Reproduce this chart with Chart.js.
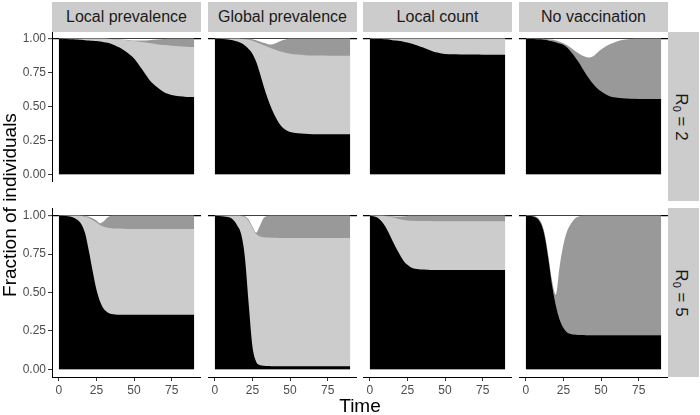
<!DOCTYPE html>
<html>
<head>
<meta charset="utf-8">
<script src="https://cdn.jsdelivr.net/npm/chart.js@4.4.0/dist/chart.umd.min.js"></script>
<style>
  body { margin: 0; background: #fff; }
  #fig { position: relative; width: 700px; height: 415px; overflow: hidden; font-family: "Liberation Sans", Arial, Helvetica, sans-serif; }
  #fig canvas { position: absolute; }
  .strip { position: absolute; background: #cccccc; color: #1a1a1a; text-align: center; }
  .rot { position: absolute; text-align: center; white-space: nowrap; }
</style>
</head>
<body>
<div id="fig"></div>
<script>
const time = [0, 5, 10, 12.5, 15, 17.5, 20, 22.5, 25, 27.5, 30, 32.5, 35, 37.5, 40, 42.5, 45, 47.5, 50, 55, 60, 65, 70, 75, 80, 85, 90];
const xTicks = [0, 25, 50, 75];
const yTicks = [0, 0.25, 0.5, 0.75, 1];
const strategies = ['Local prevalence', 'Global prevalence', 'Local count', 'No vaccination'];
const r0Values = ['2', '5'];

// layers from bottom: S (black), V (light grey), R (dark grey), I (white)
// R0 = 2
const lp2S = [1.0, 0.999, 0.996, 0.994, 0.992, 0.99, 0.988, 0.986, 0.983, 0.979, 0.975, 0.97, 0.962, 0.951, 0.937, 0.92, 0.902, 0.88, 0.855, 0.78, 0.70, 0.645, 0.605, 0.585, 0.575, 0.571, 0.57];
const lp2V = [0, 0.001, 0.004, 0.006, 0.008, 0.01, 0.012, 0.014, 0.017, 0.021, 0.025, 0.029, 0.036, 0.045, 0.057, 0.072, 0.088, 0.107, 0.128, 0.196, 0.268, 0.315, 0.349, 0.364, 0.37, 0.371, 0.37];
const lp2R = [0, 0, 0, 0, 0, 0, 0, 0, 0, 0, 0, 0.001, 0.001, 0.002, 0.002, 0.002, 0.002, 0.003, 0.005, 0.011, 0.022, 0.035, 0.044, 0.051, 0.055, 0.058, 0.06];
const lp2I = [0, 0, 0, 0, 0, 0, 0, 0, 0, 0, 0, 0, 0.001, 0.002, 0.004, 0.006, 0.008, 0.01, 0.012, 0.013, 0.01, 0.005, 0.002, 0, 0, 0, 0];

const gp2S = [1.0, 0.998, 0.993, 0.988, 0.98, 0.968, 0.95, 0.925, 0.89, 0.83, 0.745, 0.65, 0.565, 0.49, 0.43, 0.38, 0.345, 0.325, 0.312, 0.302, 0.298, 0.296, 0.295, 0.295, 0.295, 0.295, 0.295];
const gp2V = [0, 0.002, 0.007, 0.012, 0.02, 0.031, 0.047, 0.068, 0.095, 0.145, 0.218, 0.302, 0.376, 0.44, 0.49, 0.53, 0.557, 0.57, 0.578, 0.581, 0.581, 0.581, 0.581, 0.58, 0.58, 0.58, 0.58];
const gp2R = [0, 0, 0, 0, 0, 0.001, 0.003, 0.007, 0.012, 0.015, 0.017, 0.018, 0.021, 0.027, 0.045, 0.068, 0.088, 0.102, 0.11, 0.117, 0.121, 0.123, 0.124, 0.125, 0.125, 0.125, 0.125];
const gp2I = [0, 0, 0, 0, 0, 0, 0, 0, 0.003, 0.01, 0.02, 0.03, 0.038, 0.043, 0.035, 0.022, 0.01, 0.003, 0, 0, 0, 0, 0, 0, 0, 0, 0];

const lc2S = [1.0, 0.998, 0.996, 0.994, 0.99, 0.987, 0.983, 0.978, 0.972, 0.965, 0.956, 0.947, 0.937, 0.926, 0.915, 0.905, 0.898, 0.892, 0.888, 0.885, 0.884, 0.883, 0.883, 0.882, 0.882, 0.882, 0.882];
const lc2V = [0, 0.002, 0.004, 0.006, 0.01, 0.013, 0.017, 0.022, 0.028, 0.035, 0.044, 0.053, 0.063, 0.074, 0.085, 0.095, 0.102, 0.108, 0.112, 0.115, 0.116, 0.117, 0.117, 0.118, 0.118, 0.118, 0.118];
const lc2R = [0, 0, 0, 0, 0, 0, 0, 0, 0, 0, 0, 0, 0, 0, 0, 0, 0, 0, 0, 0, 0, 0, 0, 0, 0, 0, 0];
const lc2I = [0, 0, 0, 0, 0, 0, 0, 0, 0, 0, 0, 0, 0, 0, 0, 0, 0, 0, 0, 0, 0, 0, 0, 0, 0, 0, 0];

const nv2S = [1.0, 0.999, 0.996, 0.993, 0.988, 0.982, 0.975, 0.965, 0.955, 0.935, 0.905, 0.87, 0.83, 0.785, 0.74, 0.70, 0.665, 0.635, 0.612, 0.58, 0.566, 0.56, 0.557, 0.556, 0.555, 0.555, 0.555];
const nv2V = [0, 0, 0, 0, 0, 0, 0, 0, 0, 0, 0, 0, 0, 0, 0, 0, 0, 0, 0, 0, 0, 0, 0, 0, 0, 0, 0];
const nv2R = [0, 0.001, 0.004, 0.006, 0.009, 0.012, 0.012, 0.013, 0.012, 0.017, 0.028, 0.042, 0.063, 0.091, 0.126, 0.162, 0.207, 0.262, 0.308, 0.375, 0.412, 0.433, 0.441, 0.444, 0.445, 0.445, 0.445];
const nv2I = [0, 0, 0, 0.001, 0.003, 0.006, 0.013, 0.022, 0.033, 0.048, 0.067, 0.088, 0.107, 0.124, 0.134, 0.138, 0.128, 0.103, 0.08, 0.045, 0.022, 0.007, 0.002, 0, 0, 0, 0];

// R0 = 5
const lp5S = [1.0, 0.998, 0.987, 0.972, 0.945, 0.885, 0.77, 0.64, 0.52, 0.44, 0.392, 0.37, 0.36, 0.357, 0.355, 0.355, 0.355, 0.355, 0.355, 0.355, 0.355, 0.355, 0.355, 0.355, 0.355, 0.355, 0.355];
const lp5V = [0, 0.002, 0.013, 0.028, 0.053, 0.108, 0.215, 0.332, 0.435, 0.498, 0.536, 0.552, 0.559, 0.56, 0.561, 0.56, 0.559, 0.559, 0.559, 0.559, 0.559, 0.559, 0.558, 0.558, 0.558, 0.558, 0.558];
const lp5R = [0, 0, 0, 0, 0.002, 0.005, 0.008, 0.011, 0.013, 0.012, 0.037, 0.068, 0.08, 0.083, 0.084, 0.085, 0.086, 0.086, 0.086, 0.086, 0.086, 0.086, 0.087, 0.087, 0.087, 0.087, 0.087];
const lp5I = [0, 0, 0, 0, 0, 0.002, 0.007, 0.017, 0.032, 0.05, 0.035, 0.01, 0.001, 0, 0, 0, 0, 0, 0, 0, 0, 0, 0, 0, 0, 0, 0];

const gp5S = [1.0, 0.997, 0.988, 0.97, 0.935, 0.88, 0.73, 0.43, 0.15, 0.05, 0.028, 0.023, 0.021, 0.02, 0.02, 0.02, 0.02, 0.02, 0.02, 0.02, 0.02, 0.02, 0.02, 0.02, 0.02, 0.02, 0.02];
const gp5V = [0, 0.003, 0.012, 0.03, 0.065, 0.118, 0.26, 0.535, 0.77, 0.83, 0.837, 0.837, 0.837, 0.837, 0.836, 0.835, 0.835, 0.835, 0.835, 0.835, 0.835, 0.835, 0.835, 0.835, 0.835, 0.835, 0.835];
const gp5R = [0, 0, 0, 0, 0, 0.002, 0.007, 0.01, 0.01, 0.01, 0.07, 0.125, 0.14, 0.143, 0.144, 0.145, 0.145, 0.145, 0.145, 0.145, 0.145, 0.145, 0.145, 0.145, 0.145, 0.145, 0.145];
const gp5I = [0, 0, 0, 0, 0, 0, 0.003, 0.025, 0.07, 0.11, 0.065, 0.015, 0.002, 0, 0, 0, 0, 0, 0, 0, 0, 0, 0, 0, 0, 0, 0];

const lc5S = [1.0, 0.988, 0.935, 0.89, 0.838, 0.79, 0.745, 0.705, 0.68, 0.663, 0.655, 0.651, 0.649, 0.648, 0.647, 0.647, 0.647, 0.647, 0.647, 0.647, 0.647, 0.647, 0.647, 0.647, 0.647, 0.647, 0.647];
const lc5V = [0, 0.012, 0.063, 0.105, 0.152, 0.193, 0.231, 0.267, 0.289, 0.304, 0.311, 0.314, 0.316, 0.317, 0.318, 0.317, 0.317, 0.317, 0.317, 0.317, 0.317, 0.317, 0.317, 0.316, 0.316, 0.316, 0.316];
const lc5R = [0, 0, 0.002, 0.003, 0.006, 0.011, 0.018, 0.024, 0.029, 0.032, 0.034, 0.035, 0.035, 0.035, 0.035, 0.036, 0.036, 0.036, 0.036, 0.036, 0.036, 0.036, 0.036, 0.037, 0.037, 0.037, 0.037];
const lc5I = [0, 0, 0, 0.002, 0.004, 0.006, 0.006, 0.004, 0.002, 0.001, 0, 0, 0, 0, 0, 0, 0, 0, 0, 0, 0, 0, 0, 0, 0, 0, 0];

const nv5S = [1.0, 0.995, 0.95, 0.87, 0.72, 0.545, 0.415, 0.325, 0.27, 0.24, 0.23, 0.226, 0.224, 0.223, 0.222, 0.222, 0.222, 0.222, 0.222, 0.222, 0.221, 0.221, 0.221, 0.221, 0.221, 0.221, 0.221];
const nv5V = [0, 0, 0, 0, 0, 0, 0, 0, 0, 0, 0, 0, 0, 0, 0, 0, 0, 0, 0, 0, 0, 0, 0, 0, 0, 0, 0];
const nv5R = [0, 0.003, 0.01, 0.015, 0.02, 0.03, 0.07, 0.345, 0.54, 0.66, 0.718, 0.754, 0.77, 0.776, 0.778, 0.778, 0.778, 0.778, 0.778, 0.778, 0.779, 0.779, 0.779, 0.779, 0.779, 0.779, 0.779];
const nv5I = [0, 0.002, 0.04, 0.115, 0.26, 0.425, 0.515, 0.33, 0.19, 0.1, 0.052, 0.02, 0.006, 0.001, 0, 0, 0, 0, 0, 0, 0, 0, 0, 0, 0, 0, 0];

const panels = [
    { col: 0, row: 0, layers: [lp2S, lp2V, lp2R, lp2I] },
    { col: 1, row: 0, layers: [gp2S, gp2V, gp2R, gp2I] },
    { col: 2, row: 0, layers: [lc2S, lc2V, lc2R, lc2I] },
    { col: 3, row: 0, layers: [nv2S, nv2V, nv2R, nv2I] },
    { col: 0, row: 1, layers: [lp5S, lp5V, lp5R, lp5I] },
    { col: 1, row: 1, layers: [gp5S, gp5V, gp5R, gp5I] },
    { col: 2, row: 1, layers: [lc5S, lc5V, lc5R, lc5I] },
    { col: 3, row: 1, layers: [nv5S, nv5V, nv5R, nv5I] }
];

const fontFamily = '"Liberation Sans", Arial, Helvetica, sans-serif';
const layerColors = ['#000000', '#cccccc', '#999999', '#ffffff'];
const panelLeft = [52, 208, 363, 519];
const panelTop = [32, 208];
const panelW = 149, panelH = 169;
const axisW = 32, axisH = 20;

const fig = document.getElementById('fig');

function addBox(cls, html, css) {
    const el = document.createElement('div');
    el.className = cls;
    el.innerHTML = html;
    Object.assign(el.style, css);
    fig.appendChild(el);
    return el;
}

function drawPanel(p) {
    const leftAxis = p.col === 0;
    const bottomAxis = p.row === 1;
    const canvas = document.createElement('canvas');
    canvas.width = panelW + (leftAxis ? axisW : 0);
    canvas.height = panelH + (bottomAxis ? axisH : 0);
    canvas.style.left = (panelLeft[p.col] - (leftAxis ? axisW : 0)) + 'px';
    canvas.style.top = panelTop[p.row] + 'px';
    fig.appendChild(canvas);

    const tickFont = { family: fontFamily, size: 12 };

    new Chart(canvas, {
        type: 'line',
        data: {
            datasets: p.layers.map((vals, i) => ({
                data: time.map((t, k) => ({ x: t, y: vals[k] })),
                backgroundColor: layerColors[i],
                borderColor: layerColors[i],
                borderWidth: 0,
                fill: 'origin',
                pointRadius: 0,
                pointHoverRadius: 0,
                cubicInterpolationMode: 'monotone'
            }))
        },
        options: {
            responsive: false,
            animation: false,
            events: [],
            layout: { padding: 0 },
            plugins: { legend: { display: false }, tooltip: { enabled: false } },
            scales: {
                x: {
                    type: 'linear',
                    min: -4.5,
                    max: 94.5,
                    display: bottomAxis,
                    afterBuildTicks: axis => { axis.ticks = xTicks.map(v => ({ value: v })); },
                    ticks: { color: '#4d4d4d', font: tickFont, padding: 2, maxRotation: 0, autoSkip: false, callback: v => String(v) },
                    grid: { drawOnChartArea: false, tickLength: 4, tickColor: '#333333', tickWidth: 1 },
                    border: { display: true, color: '#000000', width: 1 },
                    afterFit: s => { s.height = axisH; s.paddingLeft = 0; s.paddingRight = 0; }
                },
                y: {
                    type: 'linear',
                    stacked: true,
                    min: -0.05,
                    max: 1.05,
                    z: 1,
                    afterBuildTicks: axis => { axis.ticks = yTicks.map(v => ({ value: v })); },
                    ticks: { display: leftAxis, color: '#4d4d4d', font: tickFont, padding: 2, callback: v => v.toFixed(2) },
                    grid: {
                        color: c => (c.tick && c.tick.value === 1) ? '#000000' : 'rgba(0,0,0,0)',
                        lineWidth: c => (c.tick && c.tick.value === 1) ? 1.3 : 1,
                        drawTicks: leftAxis,
                        tickLength: 4,
                        tickColor: '#333333',
                        tickWidth: 1
                    },
                    border: { display: leftAxis, color: '#000000', width: 1 },
                    afterFit: s => { s.width = leftAxis ? axisW : 0; s.paddingTop = 0; s.paddingBottom = 0; }
                }
            }
        }
    });
}

// facet strips
strategies.forEach((name, c) => {
    addBox('strip', name, {
        left: panelLeft[c] + 'px', top: '2px', width: panelW + 'px', height: '30px',
        lineHeight: '30px', fontSize: '16px'
    });
});
r0Values.forEach((r, i) => {
    addBox('strip', '', {
        left: '668px', top: panelTop[i] + 'px', width: '31px', height: panelH + 'px'
    });
    addBox('rot', 'R<span style="font-size:0.65em;vertical-align:-0.3em">0</span> = ' + r, {
        left: (681 - 60) + 'px', top: (panelTop[i] + panelH / 2 - 12) + 'px', width: '120px', height: '24px',
        lineHeight: '24px', fontSize: '17px', color: '#1a1a1a', transform: 'rotate(90deg)'
    });
});

panels.forEach(drawPanel);

// axis titles
addBox('rot', 'Fraction of individuals', {
    left: (10 - 150) + 'px', top: (204.5 - 12) + 'px', width: '300px', height: '24px',
    lineHeight: '24px', fontSize: '19px', color: '#000', transform: 'rotate(-90deg)'
});
addBox('rot', 'Time', {
    left: (360 - 50) + 'px', top: '394px', width: '100px', height: '24px',
    lineHeight: '24px', fontSize: '19px', color: '#000'
});
</script>
</body>
</html>
